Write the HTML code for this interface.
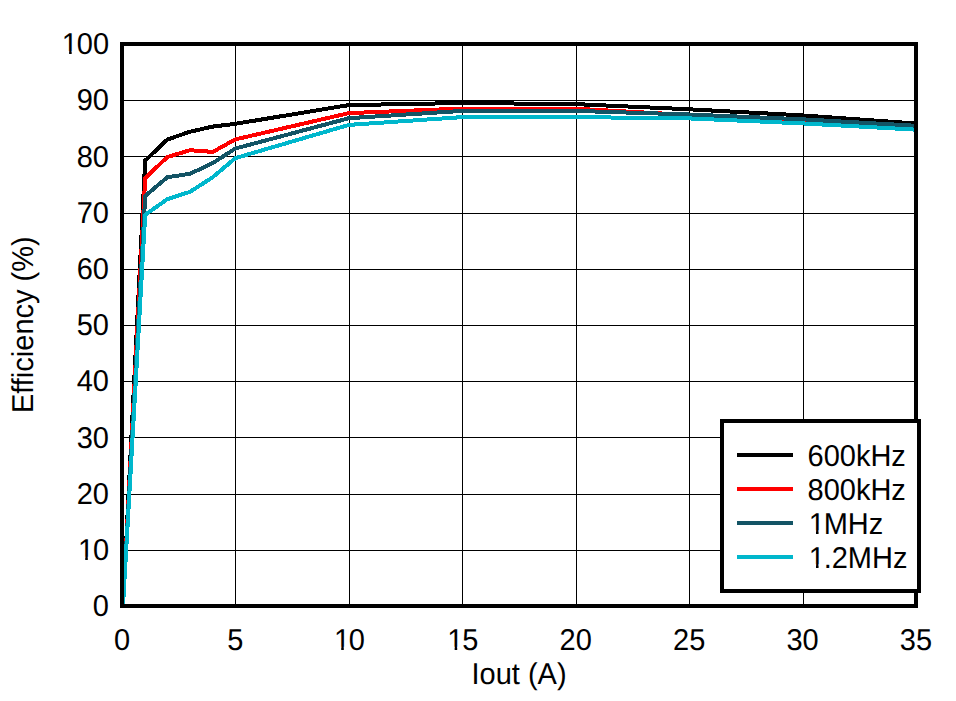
<!DOCTYPE html>
<html><head><meta charset="utf-8"><title>Efficiency vs Iout</title>
<style>
html,body{margin:0;padding:0;background:#fff;}
body{width:956px;height:701px;overflow:hidden;}
svg{display:block;}
text{font-family:"Liberation Sans",Arial,sans-serif;font-size:29px;fill:#000;text-rendering:geometricPrecision;}
</style></head><body>
<svg width="956" height="701" viewBox="0 0 956 701">
<rect x="0" y="0" width="956" height="701" fill="#fff"/>
<defs><clipPath id="plot"><rect x="124" y="46" width="790" height="558"/></clipPath></defs>
<g shape-rendering="crispEdges"><rect x="124" y="550" width="790" height="1" fill="#000"/><rect x="124" y="494" width="790" height="1" fill="#000"/><rect x="124" y="437" width="790" height="1" fill="#000"/><rect x="124" y="381" width="790" height="1" fill="#000"/><rect x="124" y="325" width="790" height="1" fill="#000"/><rect x="124" y="269" width="790" height="1" fill="#000"/><rect x="124" y="213" width="790" height="1" fill="#000"/><rect x="124" y="156" width="790" height="1" fill="#000"/><rect x="124" y="100" width="790" height="1" fill="#000"/><rect x="235" y="46" width="1" height="558" fill="#000"/><rect x="349" y="46" width="1" height="558" fill="#000"/><rect x="462" y="46" width="1" height="558" fill="#000"/><rect x="576" y="46" width="1" height="558" fill="#000"/><rect x="689" y="46" width="1" height="558" fill="#000"/><rect x="803" y="46" width="1" height="558" fill="#000"/></g>
<g clip-path="url(#plot)" fill="none" stroke-width="4" stroke-linejoin="miter" stroke-linecap="butt" shape-rendering="crispEdges">
<polyline stroke="#000000" points="123.0,606.0 145.2,160.6 167.4,139.5 190.1,131.7 212.7,126.6 235.4,123.8 348.9,105.1 462.3,103.0 575.7,104.1 689.1,109.3 802.6,115.4 916.0,123.5"/>
<polyline stroke="#ff0000" points="123.0,606.0 145.2,178.0 167.4,157.0 190.1,150.2 212.7,151.9 235.4,139.4 348.9,113.1 462.3,108.6 575.7,108.7 689.1,115.0 802.6,119.9 916.0,126.1"/>
<polyline stroke="#135465" points="123.0,606.0 145.2,196.0 167.4,177.2 190.1,173.8 212.7,163.1 235.4,148.5 348.9,118.2 462.3,110.9 575.7,110.9 689.1,114.5 802.6,119.3 916.0,125.8"/>
<polyline stroke="#00b7cc" points="123.0,606.0 145.2,214.8 167.4,199.1 190.1,191.8 212.7,177.2 235.4,158.1 348.9,124.9 462.3,117.1 575.7,117.1 689.1,118.4 802.6,123.4 916.0,129.7"/>
</g>
<rect x="122" y="44" width="794" height="562" fill="none" stroke="#000" stroke-width="4" shape-rendering="crispEdges"/>
<text transform="translate(0,616.20) scale(1,1.040)" x="109.00" y="0" text-anchor="end">0</text>
<text transform="translate(0,560.00) scale(1,1.040)" x="76.74" y="0" dx="1.2 -1.2">10</text>
<text transform="translate(0,503.80) scale(1,1.040)" x="109.00" y="0" text-anchor="end">20</text>
<text transform="translate(0,447.60) scale(1,1.040)" x="109.00" y="0" text-anchor="end">30</text>
<text transform="translate(0,391.40) scale(1,1.040)" x="109.00" y="0" text-anchor="end">40</text>
<text transform="translate(0,335.20) scale(1,1.040)" x="109.00" y="0" text-anchor="end">50</text>
<text transform="translate(0,279.00) scale(1,1.040)" x="109.00" y="0" text-anchor="end">60</text>
<text transform="translate(0,222.80) scale(1,1.040)" x="109.00" y="0" text-anchor="end">70</text>
<text transform="translate(0,166.60) scale(1,1.040)" x="109.00" y="0" text-anchor="end">80</text>
<text transform="translate(0,110.40) scale(1,1.040)" x="109.00" y="0" text-anchor="end">90</text>
<text transform="translate(0,54.20) scale(1,1.040)" x="60.61" y="0" dx="1.2 -1.2">100</text>
<text transform="translate(0,650.00) scale(1,1.040)" x="122.00" y="0" text-anchor="middle">0</text>
<text transform="translate(0,650.00) scale(1,1.040)" x="235.43" y="0" text-anchor="middle">5</text>
<text transform="translate(0,650.00) scale(1,1.040)" x="332.73" y="0" dx="1.2 -1.2">10</text>
<text transform="translate(0,650.00) scale(1,1.040)" x="446.16" y="0" dx="1.2 -1.2">15</text>
<text transform="translate(0,650.00) scale(1,1.040)" x="575.71" y="0" text-anchor="middle">20</text>
<text transform="translate(0,650.00) scale(1,1.040)" x="689.14" y="0" text-anchor="middle">25</text>
<text transform="translate(0,650.00) scale(1,1.040)" x="802.57" y="0" text-anchor="middle">30</text>
<text transform="translate(0,650.00) scale(1,1.040)" x="916.00" y="0" text-anchor="middle">35</text>
<text transform="translate(0,684.00) scale(1,1.040)" x="519.00" y="0" text-anchor="middle">Iout (A)</text>
<text transform="translate(33,324.7) rotate(-90) scale(1,1.040)" x="0" y="0" text-anchor="middle">Efficiency (%)</text>
<rect x="722" y="421" width="197" height="170" fill="#fff" stroke="#000" stroke-width="4" shape-rendering="crispEdges"/>
<rect x="737" y="453" width="56" height="4" fill="#000000" shape-rendering="crispEdges"/>
<text transform="translate(0,465.50) scale(1,1.040)" x="807.50" y="0">600kHz</text>
<rect x="737" y="487" width="56" height="4" fill="#ff0000" shape-rendering="crispEdges"/>
<text transform="translate(0,499.50) scale(1,1.040)" x="807.50" y="0">800kHz</text>
<rect x="737" y="521" width="56" height="4" fill="#135465" shape-rendering="crispEdges"/>
<text transform="translate(0,533.50) scale(1,1.040)" x="807.50" y="0" dx="1.2 -1.2">1MHz</text>
<rect x="737" y="555" width="56" height="4" fill="#00b7cc" shape-rendering="crispEdges"/>
<text transform="translate(0,567.50) scale(1,1.040)" x="807.50" y="0" dx="1.2 -1.2">1.2MHz</text>
<g><rect x="78.93" y="556.75" width="6.31" height="4.25" fill="#fff"/><rect x="87.80" y="556.75" width="6.08" height="4.25" fill="#fff"/><rect x="62.80" y="50.95" width="6.31" height="4.25" fill="#fff"/><rect x="71.67" y="50.95" width="6.08" height="4.25" fill="#fff"/><rect x="334.91" y="646.75" width="6.31" height="4.25" fill="#fff"/><rect x="343.78" y="646.75" width="6.08" height="4.25" fill="#fff"/><rect x="448.34" y="646.75" width="6.31" height="4.25" fill="#fff"/><rect x="457.21" y="646.75" width="6.08" height="4.25" fill="#fff"/><rect x="809.68" y="530.25" width="6.31" height="4.25" fill="#fff"/><rect x="818.56" y="530.25" width="6.08" height="4.25" fill="#fff"/><rect x="809.68" y="564.25" width="6.31" height="4.25" fill="#fff"/><rect x="818.56" y="564.25" width="6.08" height="4.25" fill="#fff"/></g>
</svg>
</body></html>
